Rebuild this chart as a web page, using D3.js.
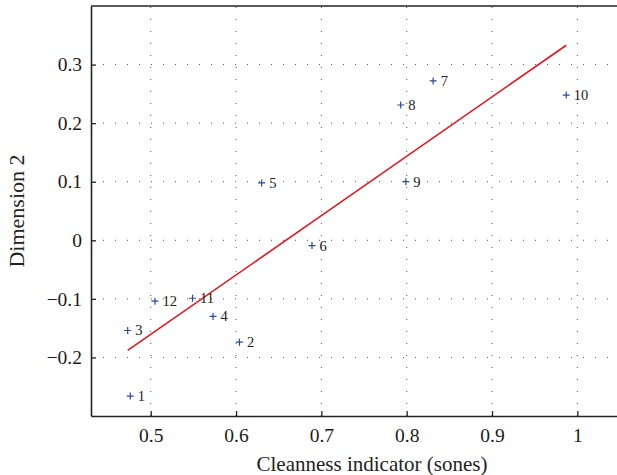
<!DOCTYPE html>
<html>
<head>
<meta charset="utf-8">
<script src="https://cdn.jsdelivr.net/npm/d3@7"></script>
<style>
  body { margin: 0; background: #fff; }
  svg { display: block; font-family: "Liberation Serif", "DejaVu Serif", serif; }
</style>
</head>
<body>
<svg id="chart" width="617" height="475"></svg>
<script>
// point data
var labels = ["1", "2", "3", "4", "5", "6", "7", "8", "9", "10", "11", "12"];
var xVals = [0.476, 0.604, 0.473, 0.573, 0.630, 0.689, 0.831, 0.793, 0.799, 0.987, 0.549, 0.505];
var yVals = [-0.266, -0.174, -0.154, -0.130, 0.098, -0.009, 0.272, 0.231, 0.100, 0.248, -0.099, -0.104];

// fitted regression line end points
var fitX = [0.473, 0.987];
var fitY = [-0.188, 0.333];

var xTicks = [0.5, 0.6, 0.7, 0.8, 0.9, 1];
var yTicks = [-0.2, -0.1, 0, 0.1, 0.2, 0.3];

var svg = d3.select("#chart");

var plotLeft = 91, plotTop = 6, plotRight = 620, plotBottom = 416;

var x = d3.scaleLinear().domain([0.43, 1.05]).range([plotLeft, plotRight]);
var y = d3.scaleLinear().domain([-0.3, 0.4]).range([plotBottom, plotTop]);

function fmt(v) {
    var s = String(+v.toFixed(2));
    return s.replace("-", "\u2212");
}

// dotted grid
svg.append("g").selectAll("line").data(xTicks).enter().append("line")
    .attr("x1", function(d) { return x(d); })
    .attr("x2", function(d) { return x(d); })
    .attr("y1", plotBottom)
    .attr("y2", plotTop)
    .attr("stroke", "#555")
    .attr("stroke-width", 1)
    .attr("stroke-dasharray", "1,11");

svg.append("g").selectAll("line").data(yTicks).enter().append("line")
    .attr("x1", plotLeft)
    .attr("x2", plotRight)
    .attr("y1", function(d) { return y(d); })
    .attr("y2", function(d) { return y(d); })
    .attr("stroke", "#555")
    .attr("stroke-width", 1)
    .attr("stroke-dasharray", "1,11");

// axes with inward ticks
var xAxis = svg.append("g")
    .attr("transform", "translate(0," + plotBottom + ")")
    .call(d3.axisBottom(x).tickValues(xTicks).tickSizeInner(-5).tickSizeOuter(0).tickPadding(12).tickFormat(fmt));

var yAxis = svg.append("g")
    .attr("transform", "translate(" + plotLeft + ",0)")
    .call(d3.axisLeft(y).tickValues(yTicks).tickSizeInner(-5).tickSizeOuter(0).tickPadding(9).tickFormat(fmt));

[xAxis, yAxis].forEach(function(a) {
    a.select(".domain").attr("stroke", "#222").attr("stroke-width", 1.6);
    a.selectAll(".tick line").attr("stroke", "#222").attr("stroke-width", 1.3);
    a.selectAll(".tick text")
        .attr("font-family", "Liberation Serif, DejaVu Serif, serif")
        .attr("font-size", 19.5)
        .attr("fill", "#1a1a1a");
});

// top border
svg.append("line")
    .attr("x1", plotLeft).attr("x2", plotRight)
    .attr("y1", plotTop).attr("y2", plotTop)
    .attr("stroke", "#222").attr("stroke-width", 1.6);

// regression line
svg.append("line")
    .attr("x1", x(fitX[0])).attr("y1", y(fitY[0]))
    .attr("x2", x(fitX[1])).attr("y2", y(fitY[1]))
    .attr("stroke", "#e8141c")
    .attr("stroke-width", 1.6);

// markers
var pts = labels.map(function(l, i) { return { label: l, x: xVals[i], y: yVals[i] }; });

var g = svg.append("g").selectAll("g").data(pts).enter().append("g")
    .attr("transform", function(d) { return "translate(" + x(d.x) + "," + y(d.y) + ")"; });

g.append("path")
    .attr("d", "M-3.5,0H3.5M0,-3.5V3.5")
    .attr("stroke", "#2a4a9c")
    .attr("stroke-width", 1.2);

g.append("text")
    .attr("x", 7.5)
    .attr("y", 5)
    .attr("font-size", 14.5)
    .attr("fill", "#222")
    .text(function(d) { return d.label; });

// axis titles
svg.append("text")
    .attr("x", 372)
    .attr("y", 471)
    .attr("text-anchor", "middle")
    .attr("font-size", 21)
    .attr("fill", "#222")
    .text("Cleanness indicator (sones)");

svg.append("text")
    .attr("transform", "translate(24," + ((plotTop + plotBottom) / 2) + ") rotate(-90)")
    .attr("text-anchor", "middle")
    .attr("font-size", 22)
    .attr("fill", "#222")
    .text("Dimension 2");
</script>
</body>
</html>
